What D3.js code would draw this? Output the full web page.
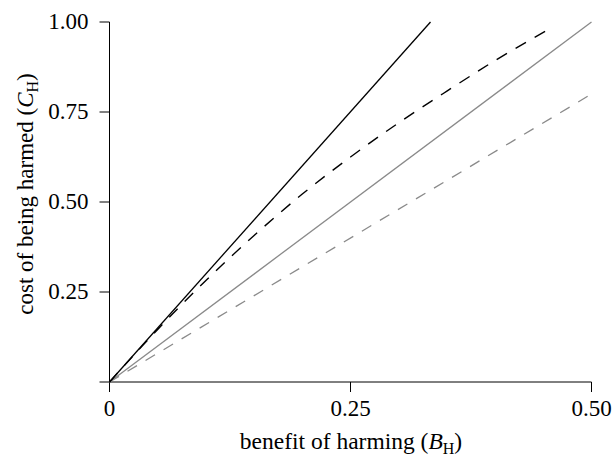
<!DOCTYPE html>
<html>
<head>
<meta charset="utf-8">
<script src="https://cdn.jsdelivr.net/npm/d3@7"></script>
<style>
  body { margin: 0; background: #fff; }
  svg { display: block; }
</style>
</head>
<body>
<svg width="614" height="456"></svg>
<script>
// tick values and labels
let xTicks = [0, 0.25, 0.5];
let xTickLabels = ["0", "0.25", "0.50"];
let yTicks = [0, 0.25, 0.5, 0.75, 1];
let yTickLabels = ["", "0.25", "0.50", "0.75", "1.00"];

// the four curves (benefit B_H, cost C_H)
let blackSolidB = [0, 0.333];
let blackSolidC = [0, 1.0];
let blackDashB = [0, 0.05, 0.1, 0.15, 0.2, 0.25, 0.3, 0.35, 0.4, 0.456];
let blackDashC = [0, 0.146, 0.282, 0.407, 0.522, 0.625, 0.72, 0.808, 0.893, 0.98];
let graySolidB = [0, 0.5];
let graySolidC = [0, 1.0];
let grayDashB = [0, 0.5];
let grayDashC = [0, 0.8];

let svg = d3.select("svg");
let font = "'Liberation Serif', 'Times New Roman', serif";

let x = d3.scaleLinear().domain([0, 0.5]).range([109.5, 591.5]);
let y = d3.scaleLinear().domain([0, 1]).range([382, 22]);

// axes
svg.append("g")
  .attr("transform", "translate(0, 382)")
  .call(d3.axisBottom(x).tickValues(xTicks)
    .tickFormat(function (d, i) { return xTickLabels[i]; })
    .tickSize(10).tickSizeOuter(0).tickPadding(8).offset(0));

svg.append("g")
  .attr("transform", "translate(109.5, 0)")
  .call(d3.axisLeft(y).tickValues(yTicks)
    .tickFormat(function (d, i) { return yTickLabels[i]; })
    .tickSize(10).tickSizeOuter(0).tickPadding(11).offset(0));

svg.selectAll(".tick text")
  .attr("font-family", font)
  .attr("font-size", 23)
  .attr("fill", "#000");
svg.selectAll(".domain, .tick line").attr("stroke", "#000").attr("stroke-width", 1);

// lines
function drawLine(bs, cs, color, dash, w) {
  let pts = bs.map(function (b, i) { return [b, cs[i]]; });
  svg.append("path")
    .datum(pts)
    .attr("fill", "none")
    .attr("stroke", color)
    .attr("stroke-width", w)
    .attr("stroke-dasharray", dash)
    .attr("d", d3.line()
      .x(function (d) { return x(d[0]); })
      .y(function (d) { return y(d[1]); })
      .curve(d3.curveMonotoneX));
}

drawLine(graySolidB, graySolidC, "#8a8a8a", null, 1.3);
drawLine(grayDashB, grayDashC, "#8a8a8a", "11,10", 1.3);
drawLine(blackSolidB, blackSolidC, "#000", null, 1.3);
drawLine(blackDashB, blackDashC, "#000", "12,10", 1.4);

// axis titles
let xt = svg.append("text")
  .attr("x", 351)
  .attr("y", 449)
  .attr("text-anchor", "middle")
  .attr("font-family", font)
  .attr("font-size", 23.5);
xt.append("tspan").text("benefit of harming (");
xt.append("tspan").attr("font-style", "italic").text("B");
xt.append("tspan").attr("font-size", 16).attr("dy", 5).text("H");
xt.append("tspan").attr("dy", -5).text(")");

let yt = svg.append("text")
  .attr("transform", "translate(33, 194) rotate(-90)")
  .attr("text-anchor", "middle")
  .attr("font-family", font)
  .attr("font-size", 23);
yt.append("tspan").text("cost of being harmed (");
yt.append("tspan").attr("font-style", "italic").text("C");
yt.append("tspan").attr("font-size", 16).attr("dy", 5).text("H");
yt.append("tspan").attr("dy", -5).text(")");
</script>
</body>
</html>
